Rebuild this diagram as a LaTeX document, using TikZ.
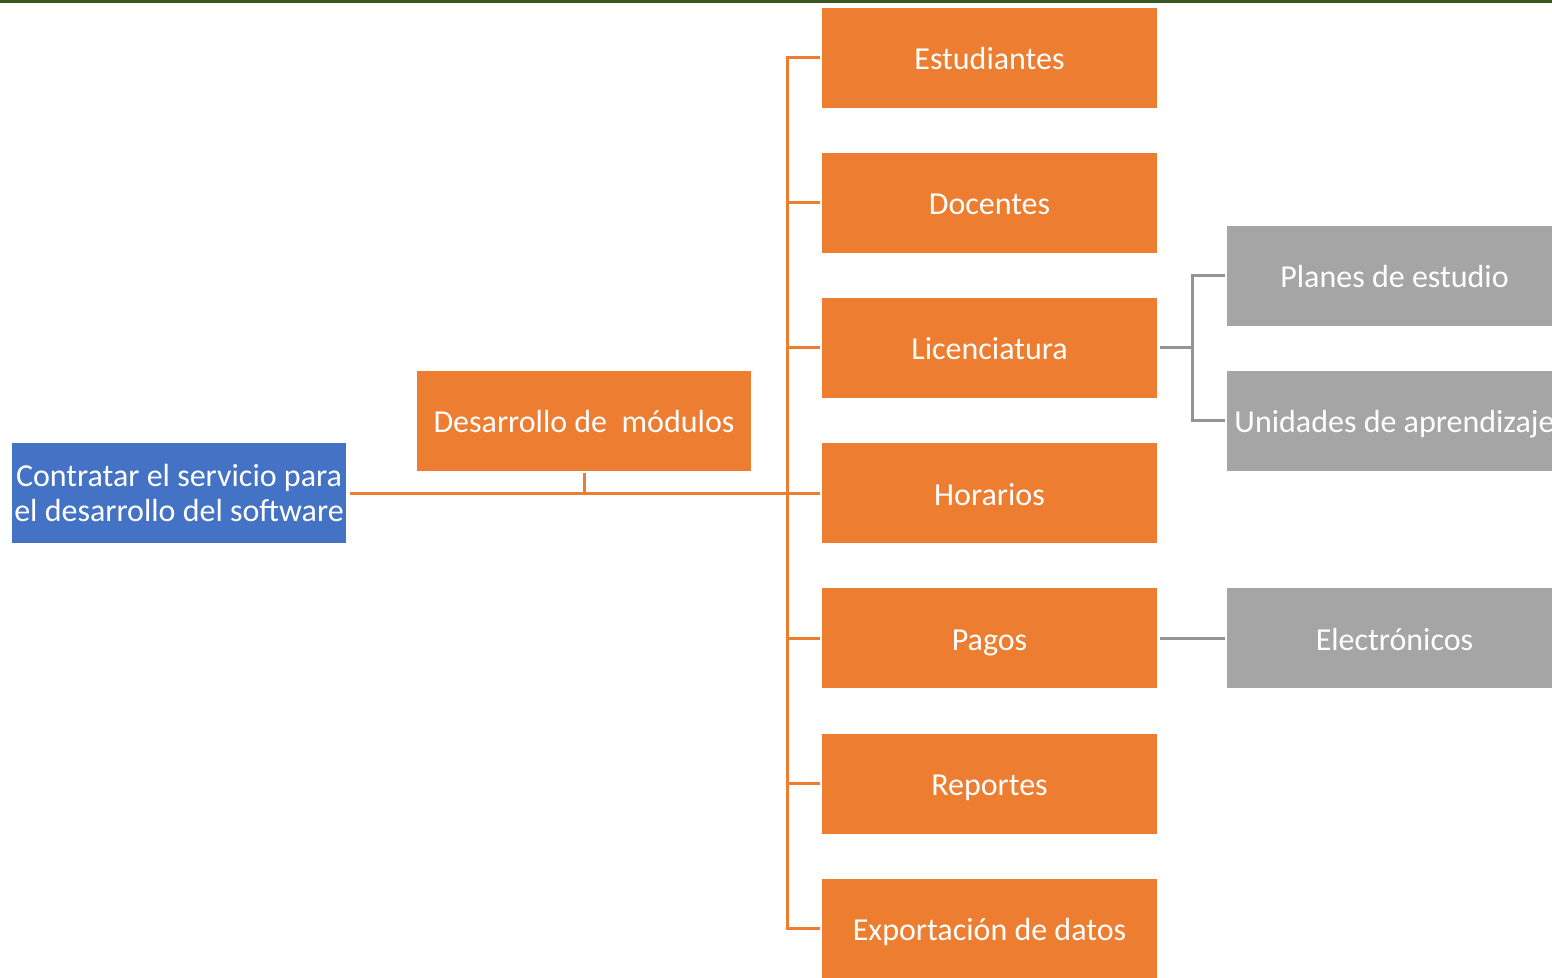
\documentclass[tikz,border=0pt]{standalone}
\usepackage{fontspec}
\setmainfont{Carlito}
\definecolor{blueA}{HTML}{4472C4}
\definecolor{orangeA}{HTML}{ED7D31}
\definecolor{grayA}{HTML}{A5A5A5}
\definecolor{greenbar}{HTML}{385723}
\begin{document}
\begin{tikzpicture}[x=1pt,y=-1pt,
  box/.style={minimum width=335pt, minimum height=100pt, inner sep=0pt, outer sep=0pt,
    text=white, font=\fontsize{32}{35}\selectfont, align=center},
  bbox/.style={box, fill=blueA},
  obox/.style={box, fill=orangeA, text height=25pt, text depth=1pt},
  gbox/.style={box, fill=grayA, text height=25pt, text depth=1pt},
  oline/.style={draw=orangeA, line width=3pt},
  gline/.style={draw=grayA!90!black, line width=3pt}]
\useasboundingbox (0,0) rectangle (1552,977);
\clip (0,0) rectangle (1552,977);
\fill[greenbar] (0,0) rectangle (1552,2.5);

% root and level-one boxes
\node[bbox, minimum width=334pt] (root) at (179,493) {Contratar el servicio para\\el desarrollo del software};
\node[obox, minimum width=334pt] (mod) at (584,420.5) {Desarrollo de\ \ módulos};

% module boxes
\node[obox] (est) at (989.5,57.5) {Estudiantes};
\node[obox] (doc) at (989.5,202.5) {Docentes};
\node[obox] (lic) at (989.5,347.5) {Licenciatura};
\node[obox] (hor) at (989.5,493) {Horarios};
\node[obox] (pag) at (989.5,638) {Pagos};
\node[obox] (rep) at (989.5,783.5) {Reportes};
\node[obox] (exp) at (989.5,928.5) {Exportación de datos};

% sub-module boxes
\node[gbox] (pla) at (1394.5,275.5) {Planes de estudio};
\node[gbox] (uni) at (1394.5,420.5) {Unidades de aprendizaje};
\node[gbox] (ele) at (1394.5,638) {Electrónicos};

% orange connectors
\coordinate (trunk) at (787,493);
\draw[oline] ([xshift=4pt]root.east) -- ([xshift=-2.5pt]hor.west);
\draw[oline, shorten <=2.5pt] (mod.south) -- (mod.south |- root.east);
\draw[oline] ([xshift=-2.5pt]est.west) -| (trunk) |- ([xshift=-2.5pt]exp.west);
\foreach \b in {doc,lic,pag,rep}
  \draw[oline] (trunk |- \b.west) -- ([xshift=-2.5pt]\b.west);

% gray connectors
\draw[gline] ([xshift=3pt]lic.east) -- ++(32,0) coordinate (gj);
\draw[gline] ([xshift=-2.5pt]pla.west) -| (gj) |- ([xshift=-2.5pt]uni.west);
\draw[gline] ([xshift=3pt]pag.east) -- ([xshift=-2.5pt]ele.west);
\end{tikzpicture}
\end{document}
